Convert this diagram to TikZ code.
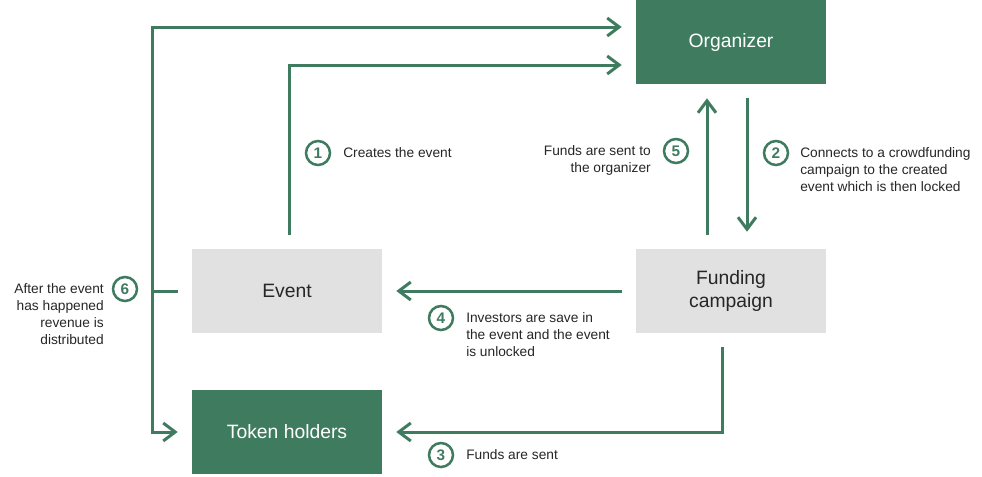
\documentclass[tikz,border=0pt]{standalone}
\usepackage{fontspec}
\setmainfont{Liberation Sans}
\usetikzlibrary{arrows.meta}
\definecolor{leaf}{HTML}{3F7C5F}
\definecolor{pale}{HTML}{E1E1E1}
\definecolor{ink}{HTML}{262626}

\begin{document}
\begin{tikzpicture}[x=0.75pt, y=-0.75pt,
  box/.style={minimum width=142.5pt, minimum height=63pt, inner sep=0pt, font=\fontsize{14.5}{17}\selectfont},
  dark/.style={box, fill=leaf, text=white},
  light/.style={box, fill=pale, text=ink},
  flow/.style={draw=leaf, line width=2.25pt, -{Straight Barb[length=9pt,width=13.5pt]}, shorten <=10.5pt, shorten >=10.5pt},
  num/.style={circle, draw=leaf, line width=1.9pt, text=leaf, minimum size=18pt, inner sep=0pt, font=\fontsize{11.5}{11.5}\selectfont\bfseries},
  note/.style={text=ink, font=\fontsize{10.3}{12.75}\selectfont, inner sep=0pt}]
\useasboundingbox (0,0) rectangle (982,476);
\node[dark] (org) at (731,42) {Organizer};
\node[light] (event) at (287,291) {Event};
\node[light, align=center] (fund) at (731,291) {Funding\\campaign};
\node[dark] (token) at (287,432) {Token holders};

\coordinate (j6) at (152,291);
\draw[flow] (event.west) -- (j6) |- ([yshift=11.25pt]org.west);
\draw[flow, shorten <=0pt] (j6) |- (token.west);
\draw[flow] ([xshift=1.5pt]event.north) |- ([yshift=-17.25pt]org.west);
\draw[flow] ([xshift=-18pt]fund.north) -- ([xshift=-18pt]org.south);
\draw[flow, shorten >=12.75pt] ([xshift=12pt]org.south) -- ([xshift=12pt]fund.north);
\draw[flow] (fund.west) -- (event.east);
\draw[flow] ([xshift=-6.75pt]fund.south) |- (token.east);

\node[num] (n1) at (318,153) {1};
\node[note, anchor=west] (l1) at (343,153) {Creates the event};
\node[num] (n2) at (776,153) {2};
\node[note, anchor=west, align=left] (l2) at (800,169.5) {Connects to a crowdfunding\\campaign to the created\\event which is then locked};
\node[num] (n3) at (441,455) {3};
\node[note, anchor=west] (l3) at (466,455) {Funds are sent};
\node[num] (n4) at (441,318) {4};
\node[note, anchor=west, align=left] (l4) at (466,335) {Investors are save in\\the event and the event\\is unlocked};
\node[num] (n5) at (676,151) {5};
\node[note, anchor=east, align=right] (l5) at (651,160) {Funds are sent to\\the organizer};
\node[num] (n6) at (125,289) {6};
\node[note, anchor=east, align=right] (l6) at (104,314.5) {After the event\\has happened\\revenue is\\distributed};
\end{tikzpicture}
\end{document}
